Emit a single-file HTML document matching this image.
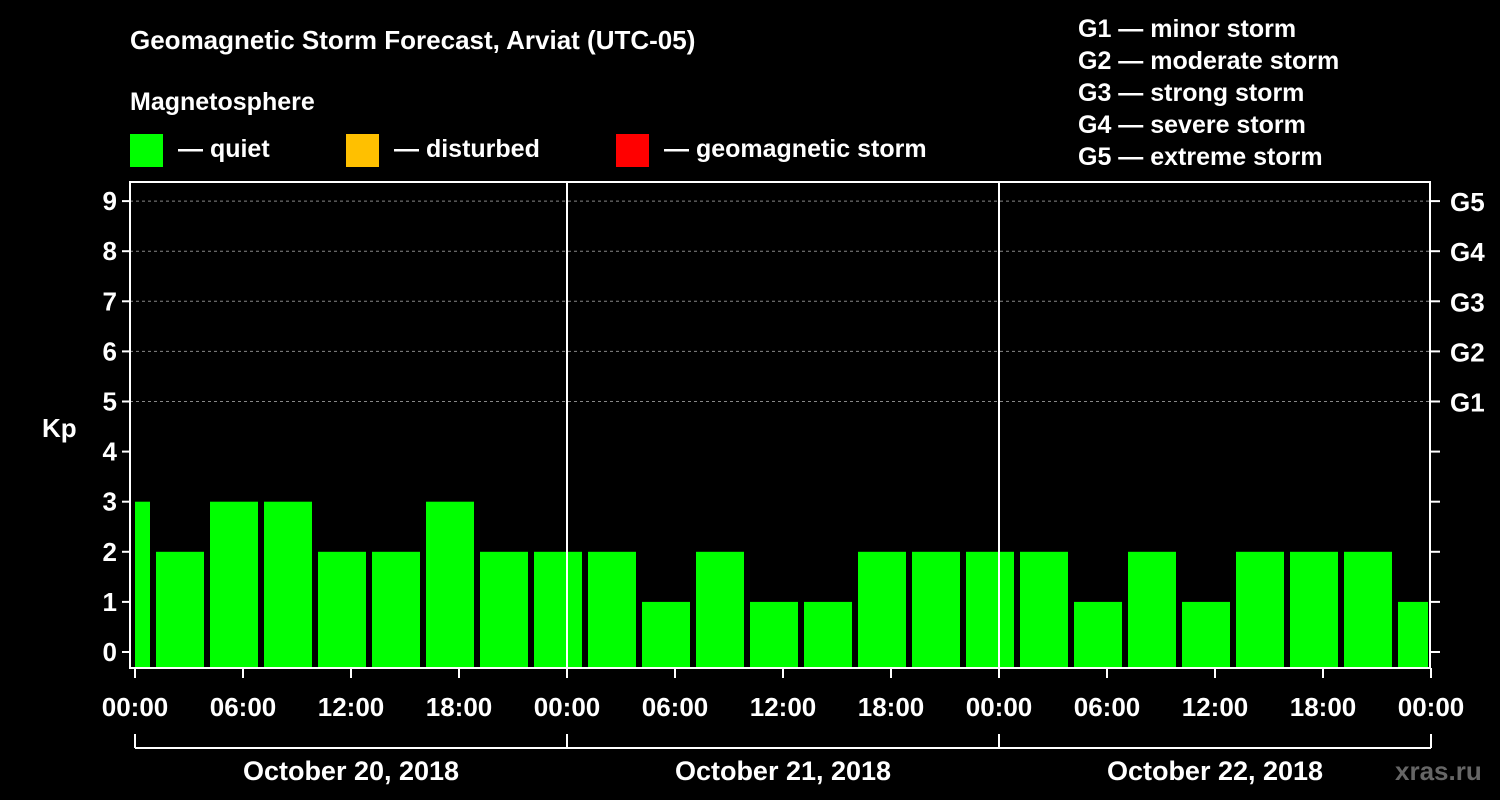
<!DOCTYPE html>
<html><head><meta charset="utf-8"><style>
html,body{margin:0;padding:0;background:#000;}
svg{display:block;font-family:"Liberation Sans",Arial,sans-serif;font-weight:bold;}
</style></head><body>
<svg id="chart" width="1500" height="800" viewBox="0 0 1500 800">
<rect x="0" y="0" width="1500" height="800" fill="#000"/>
<text x="130" y="49" fill="#fff" font-size="26">Geomagnetic Storm Forecast, Arviat (UTC-05)</text>
<text x="130" y="110" fill="#fff" font-size="25">Magnetosphere</text>
<g><rect x="130" y="134" width="33" height="33" fill="#00ff00"/><text x="178" y="157" fill="#fff" font-size="25">— quiet</text></g>
<g><rect x="346" y="134" width="33" height="33" fill="#ffc000"/><text x="394" y="157" fill="#fff" font-size="25">— disturbed</text></g>
<g><rect x="616" y="134" width="33" height="33" fill="#ff0000"/><text x="664" y="157" fill="#fff" font-size="25">— geomagnetic storm</text></g>
<g fill="#fff" font-size="25">
<text x="1078" y="37">G1 — minor storm</text>
<text x="1078" y="69">G2 — moderate storm</text>
<text x="1078" y="101">G3 — strong storm</text>
<text x="1078" y="133">G4 — severe storm</text>
<text x="1078" y="165">G5 — extreme storm</text>
</g>
<text x="42" y="437" fill="#fff" font-size="26">Kp</text>
<text x="1395" y="780" fill="#666" font-size="26">xras.ru</text>
<g id="marks"></g>
</svg>
<script>
const binStartHours = [-2,1,4,7,10,13,16,19,22,25,28,31,34,37,40,43,46,49,52,55,58,61,64,67,70];
const kpValues = [3,2,3,3,2,2,3,2,2,2,1,2,1,1,2,2,2,2,1,2,1,2,2,2,1];
const yTicks = [0,1,2,3,4,5,6,7,8,9];
const gLabels = ["G1","G2","G3","G4","G5"];
const gLevels = [5,6,7,8,9];
const xTickHours = [0,6,12,18,24,30,36,42,48,54,60,66,72];
const xTickLabels = ["00:00","06:00","12:00","18:00","00:00","06:00","12:00","18:00","00:00","06:00","12:00","18:00","00:00"];
const dayLabels = ["October 20, 2018","October 21, 2018","October 22, 2018"];

const NS="http://www.w3.org/2000/svg";
const g=document.getElementById('marks');
const X0=135, PXH=18, Y0=652, PXK=50.1, TOP=182, BOT=668, L=130, R=1430;
const x=h=>X0+h*PXH, y=v=>Y0-v*PXK;
function mk(t,a,p){const e=document.createElementNS(NS,t);for(const k in a)e.setAttribute(k,a[k]);(p||g).appendChild(e);return e;}

// grid
gLevels.forEach(v=>{const e=mk('line',{x1:L,x2:R,y1:y(v),y2:y(v),stroke:'#888','stroke-dasharray':'3,3','stroke-width':1});

});
// bars
binStartHours.forEach((s,i)=>{
  const a=Math.max(s,0), b=Math.min(s+3,72);
  const x1=x(a)+(s<0?0:3), x2=x(b)-3;
  const e=mk('rect',{x:x1,y:y(kpValues[i]),width:Math.max(0,x2-x1),height:BOT-y(kpValues[i]),fill:'#00ff00'});
  
  
});
// frame
const fr=mk('rect',{x:L,y:TOP,width:R-L,height:BOT-TOP,fill:'none',stroke:'#fff','stroke-width':2});


[24,48].forEach(h=>{const e=mk('line',{x1:x(h),x2:x(h),y1:TOP,y2:BOT,stroke:'#fff','stroke-width':2});

});
// y ticks
yTicks.forEach(v=>{
  mk('line',{x1:L-8,x2:L,y1:y(v),y2:y(v),stroke:'#fff','stroke-width':2});
  mk('line',{x1:R,x2:R+10,y1:y(v),y2:y(v),stroke:'#fff','stroke-width':2});
  const t=mk('text',{x:117,y:y(v)+9,fill:'#fff','font-size':26,'text-anchor':'end'});t.textContent=v;
  
  
});
gLevels.forEach((v,i)=>{const t=mk('text',{x:1450,y:y(v)+10,fill:'#fff','font-size':26});t.textContent=gLabels[i];

});
// x ticks
xTickHours.forEach((h,i)=>{
  mk('line',{x1:x(h),x2:x(h),y1:BOT,y2:BOT+10,stroke:'#fff','stroke-width':2});
  const t=mk('text',{x:x(h),y:716,fill:'#fff','font-size':26,'text-anchor':'middle'});t.textContent=xTickLabels[i];
  
  
});
// date bracket
mk('line',{x1:x(0),x2:x(72),y1:748,y2:748,stroke:'#fff','stroke-width':2});
[0,24,48,72].forEach(h=>mk('line',{x1:x(h),x2:x(h),y1:734,y2:748,stroke:'#fff','stroke-width':2}));
dayLabels.forEach((d,i)=>{const t=mk('text',{x:x(24*i+12),y:780,fill:'#fff','font-size':27,'text-anchor':'middle'});t.textContent=d;

});
</script>
</body></html>
